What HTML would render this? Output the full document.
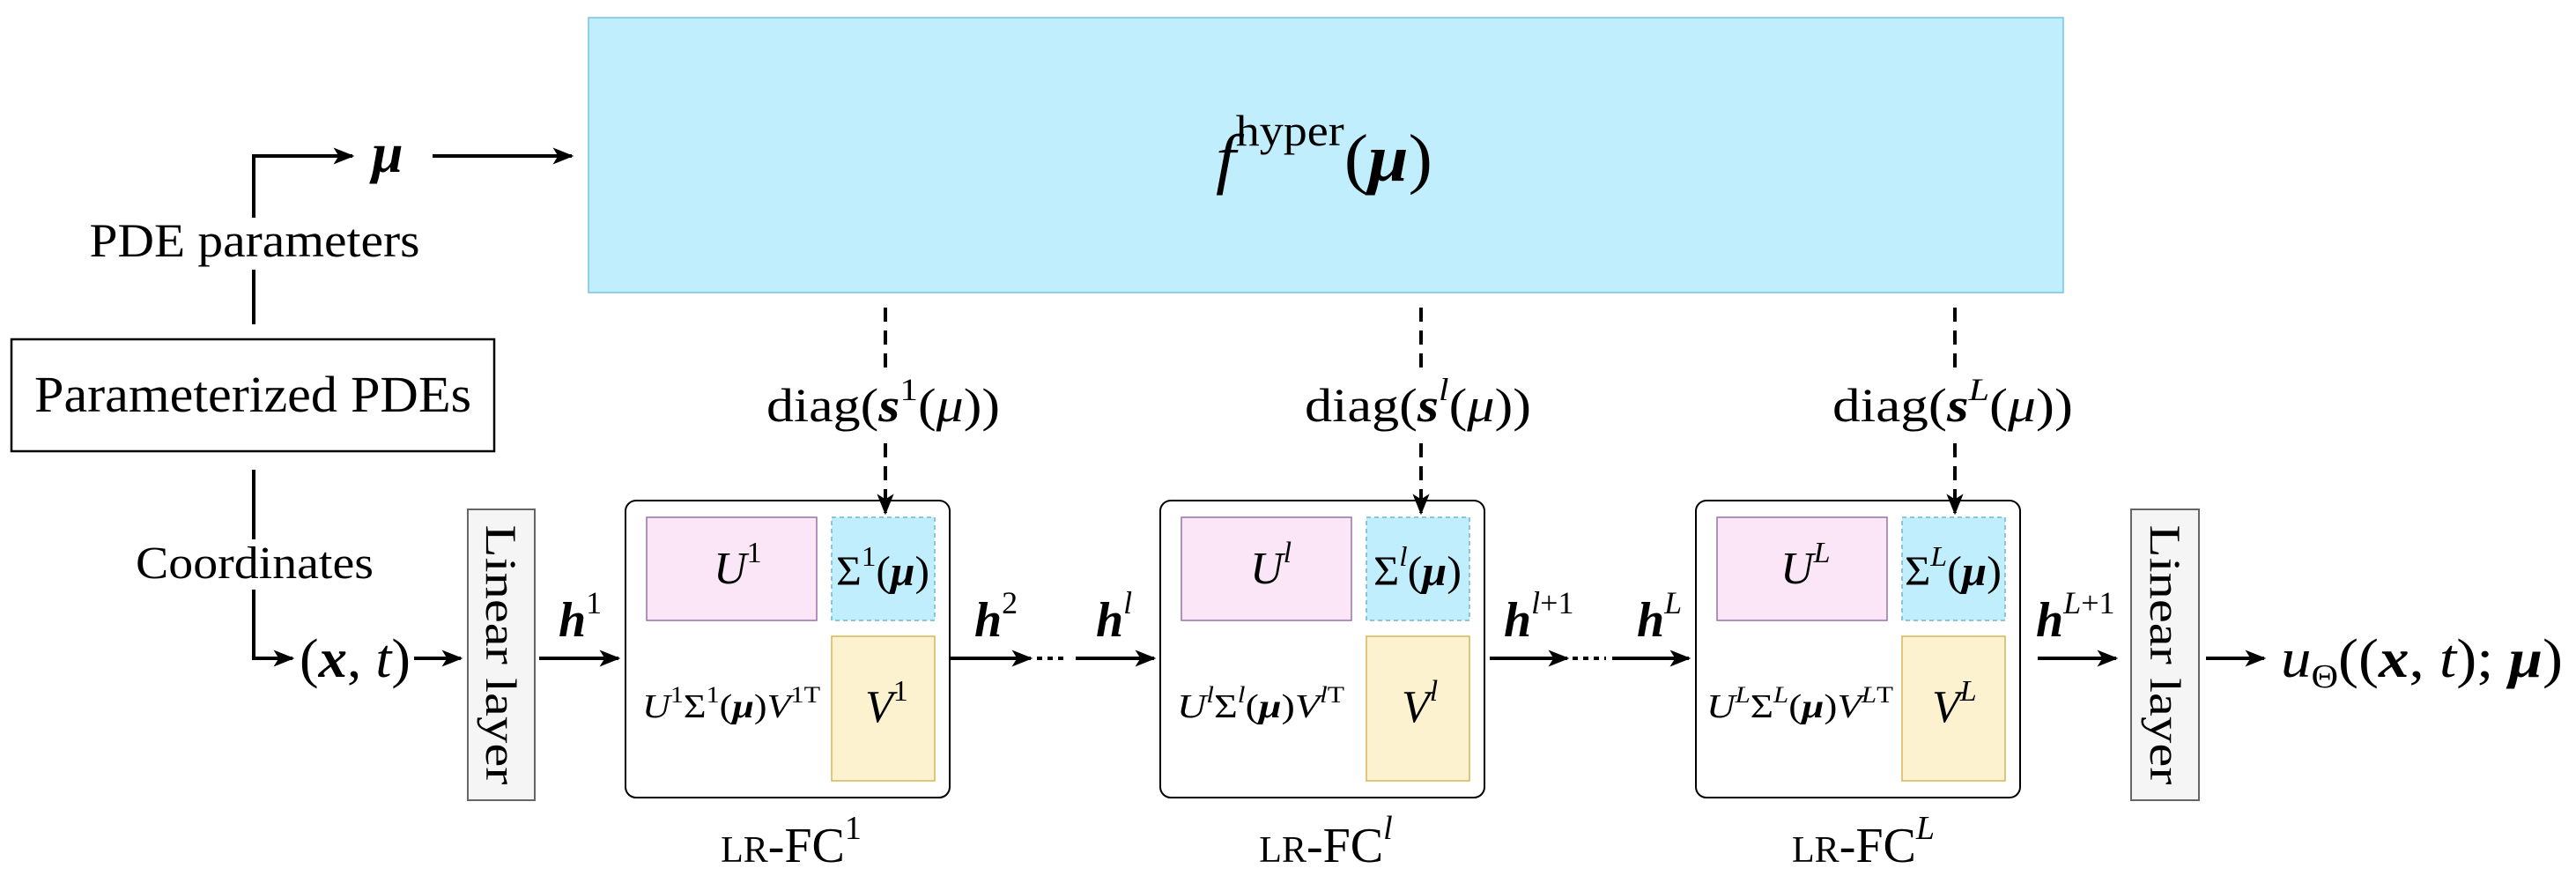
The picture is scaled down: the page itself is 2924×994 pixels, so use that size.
<!DOCTYPE html>
<html><head><meta charset="utf-8"><style>
html,body{margin:0;padding:0;background:#fff;}
svg{display:block;}
text{font-family:"Liberation Serif","DejaVu Serif",serif;fill:#000;}
.i{font-style:italic;}
.b{font-weight:bold;font-style:italic;}
</style></head><body>
<svg width="2924" height="994" viewBox="0 0 2924 994" xmlns="http://www.w3.org/2000/svg" font-family="Liberation Serif, DejaVu Serif, serif">
<defs>
<marker id="a" viewBox="0 0 20 16" refX="18" refY="8" markerWidth="24" markerHeight="20" markerUnits="userSpaceOnUse" orient="auto"><path d="M0,0 L20,8 L0,16 L5,8 Z" fill="#000"/></marker>
</defs>

<!-- hyper box -->
<rect x="668" y="20" width="1674" height="312" fill="#c0eefc" stroke="#72c3e3" stroke-width="1.5"/>
<text x="1380" y="205" font-size="76" class="i" textLength="246" lengthAdjust="spacingAndGlyphs">f<tspan font-style="normal" font-size="50" dy="-40">hyper</tspan><tspan font-style="normal" font-size="76" dy="40">(</tspan><tspan class="b">μ</tspan><tspan font-style="normal">)</tspan></text>

<!-- left: mu -->
<polyline points="288,247 288,177 400,177" fill="none" stroke="#000" stroke-width="4" marker-end="url(#a)"/>
<text x="422" y="195" font-size="64" class="b">μ</text>
<line x1="491" y1="177" x2="649" y2="177" stroke="#000" stroke-width="4" marker-end="url(#a)"/>
<text x="289" y="291" font-size="54" text-anchor="middle" textLength="375" lengthAdjust="spacingAndGlyphs">PDE parameters</text>
<line x1="288" y1="306" x2="288" y2="368" stroke="#000" stroke-width="4"/>
<rect x="13" y="385" width="548" height="127" fill="#fff" stroke="#000" stroke-width="2.5"/>
<text x="287" y="467" font-size="58" text-anchor="middle" textLength="496" lengthAdjust="spacingAndGlyphs">Parameterized PDEs</text>
<line x1="288" y1="533" x2="288" y2="612" stroke="#000" stroke-width="4"/>
<text x="289" y="656" font-size="52" text-anchor="middle" textLength="270" lengthAdjust="spacingAndGlyphs">Coordinates</text>
<polyline points="288,669 288,747 332,747" fill="none" stroke="#000" stroke-width="4" marker-end="url(#a)"/>
<text x="340" y="768" font-size="62" textLength="126" lengthAdjust="spacingAndGlyphs">(<tspan class="b">x</tspan>, <tspan class="i">t</tspan>)</text>
<line x1="470" y1="747" x2="523" y2="747" stroke="#000" stroke-width="4" marker-end="url(#a)"/>

<!-- linear layer 1 -->
<rect x="531" y="578" width="76" height="330" fill="#f5f5f5" stroke="#666" stroke-width="2"/>
<text transform="translate(552,743) rotate(90)" font-size="50" text-anchor="middle" textLength="295" lengthAdjust="spacingAndGlyphs">Linear layer</text>
<line x1="612" y1="747" x2="702" y2="747" stroke="#000" stroke-width="4" marker-end="url(#a)"/>
<text x="634" y="722" font-size="56" class="b">h<tspan font-style="normal" font-weight="normal" font-size="36" dy="-26">1</tspan></text>

<!-- between arrows -->
<line x1="1078" y1="747" x2="1170" y2="747" stroke="#000" stroke-width="4" marker-end="url(#a)"/>
<line x1="1177" y1="747" x2="1213" y2="747" stroke="#000" stroke-width="4" stroke-dasharray="6,6"/>
<line x1="1221" y1="747" x2="1310" y2="747" stroke="#000" stroke-width="4" marker-end="url(#a)"/>
<text x="1106" y="722" font-size="56" class="b">h<tspan font-style="normal" font-weight="normal" font-size="36" dy="-26">2</tspan></text>
<text x="1244" y="722" font-size="56" class="b">h<tspan class="i" font-weight="normal" font-size="36" dy="-26">l</tspan></text>

<line x1="1691" y1="747" x2="1779" y2="747" stroke="#000" stroke-width="4" marker-end="url(#a)"/>
<line x1="1785" y1="747" x2="1823" y2="747" stroke="#000" stroke-width="4" stroke-dasharray="6,6"/>
<line x1="1830" y1="747" x2="1917" y2="747" stroke="#000" stroke-width="4" marker-end="url(#a)"/>
<text x="1707" y="722" font-size="56" class="b">h<tspan font-weight="normal" font-style="normal" font-size="36" dy="-26"><tspan class="i">l</tspan>+1</tspan></text>
<text x="1858" y="722" font-size="56" class="b">h<tspan class="i" font-weight="normal" font-size="36" dy="-26">L</tspan></text>

<line x1="2313" y1="747" x2="2402" y2="747" stroke="#000" stroke-width="4" marker-end="url(#a)"/>
<text x="2311" y="722" font-size="56" class="b">h<tspan font-weight="normal" font-style="normal" font-size="36" dy="-26"><tspan class="i">L</tspan>+1</tspan></text>

<!-- linear layer 2 -->
<rect x="2419" y="578" width="77" height="330" fill="#f5f5f5" stroke="#666" stroke-width="2"/>
<text transform="translate(2441,743) rotate(90)" font-size="50" text-anchor="middle" textLength="295" lengthAdjust="spacingAndGlyphs">Linear layer</text>
<line x1="2504" y1="747" x2="2570" y2="747" stroke="#000" stroke-width="4" marker-end="url(#a)"/>
<text x="2589" y="768" font-size="62" class="i" textLength="320" lengthAdjust="spacingAndGlyphs">u<tspan font-style="normal" font-size="38" dy="12">Θ</tspan><tspan font-style="normal" dy="-12">((</tspan><tspan class="b">x</tspan><tspan font-style="normal">, </tspan>t<tspan font-style="normal">); </tspan><tspan class="b">μ</tspan><tspan font-style="normal">)</tspan></text>

<!-- block 1 -->
<g>
<rect x="710" y="568" width="368" height="337" rx="12" fill="#fff" stroke="#000" stroke-width="2"/>
<rect x="734" y="587" width="193" height="117" fill="#fbe6f7" stroke="#9673a6" stroke-width="1.5"/>
<rect x="944" y="587" width="117" height="117" fill="#c0eefc" stroke="#6cb6d6" stroke-width="1.5" stroke-dasharray="5,4"/>
<rect x="944" y="722" width="117" height="164" fill="#fcf2d0" stroke="#d6b656" stroke-width="1.5"/>
<text x="810" y="662" font-size="52" class="i">U<tspan font-style="normal" font-size="34" dy="-24">1</tspan></text>
<text x="949" y="664" font-size="48" textLength="106" lengthAdjust="spacingAndGlyphs">Σ<tspan font-size="32" dy="-22">1</tspan><tspan dy="22">(</tspan><tspan class="b">μ</tspan>)</text>
<text x="982" y="819" font-size="52" class="i">V<tspan font-style="normal" font-size="34" dy="-24">1</tspan></text>
<text x="729" y="814" font-size="38" class="i" textLength="202" lengthAdjust="spacingAndGlyphs">U<tspan font-style="normal" font-size="26" dy="-17">1</tspan><tspan font-style="normal" dy="17">Σ</tspan><tspan font-style="normal" font-size="26" dy="-17">1</tspan><tspan font-style="normal" dy="17">(</tspan><tspan class="b">μ</tspan><tspan font-style="normal">)</tspan>V<tspan font-style="normal" font-size="26" dy="-17">1T</tspan></text>
<text x="898" y="978" font-size="56" text-anchor="middle"><tspan font-size="42">LR</tspan>-FC<tspan font-size="38" dy="-26">1</tspan></text>
<line x1="1005" y1="349" x2="1005" y2="420" stroke="#000" stroke-width="4" stroke-dasharray="16,10"/>
<line x1="1005" y1="503" x2="1005" y2="582" stroke="#000" stroke-width="4" stroke-dasharray="16,10" marker-end="url(#a)"/>
<text x="870" y="478" font-size="54" textLength="265" lengthAdjust="spacingAndGlyphs">diag(<tspan class="b">s</tspan><tspan font-size="36" dy="-24">1</tspan><tspan dy="24">(</tspan><tspan class="i">μ</tspan>))</text>
</g>

<!-- block 2 -->
<g transform="translate(607,0)">
<rect x="710" y="568" width="368" height="337" rx="12" fill="#fff" stroke="#000" stroke-width="2"/>
<rect x="734" y="587" width="193" height="117" fill="#fbe6f7" stroke="#9673a6" stroke-width="1.5"/>
<rect x="944" y="587" width="117" height="117" fill="#c0eefc" stroke="#6cb6d6" stroke-width="1.5" stroke-dasharray="5,4"/>
<rect x="944" y="722" width="117" height="164" fill="#fcf2d0" stroke="#d6b656" stroke-width="1.5"/>
<text x="812" y="662" font-size="52" class="i">U<tspan font-size="34" dy="-24">l</tspan></text>
<text x="952" y="664" font-size="48" textLength="100" lengthAdjust="spacingAndGlyphs">Σ<tspan class="i" font-size="32" dy="-22">l</tspan><tspan dy="22">(</tspan><tspan class="b">μ</tspan>)</text>
<text x="984" y="819" font-size="52" class="i">V<tspan font-size="34" dy="-24">l</tspan></text>
<text x="729" y="814" font-size="38" class="i" textLength="190" lengthAdjust="spacingAndGlyphs">U<tspan font-size="26" dy="-17">l</tspan><tspan font-style="normal" dy="17">Σ</tspan><tspan font-size="26" dy="-17">l</tspan><tspan font-style="normal" dy="17">(</tspan><tspan class="b">μ</tspan><tspan font-style="normal">)</tspan>V<tspan font-size="26" dy="-17">l<tspan font-style="normal">T</tspan></tspan></text>
<text x="898" y="978" font-size="56" text-anchor="middle"><tspan font-size="42">LR</tspan>-FC<tspan class="i" font-size="38" dy="-26">l</tspan></text>
<line x1="1006" y1="349" x2="1006" y2="420" stroke="#000" stroke-width="4" stroke-dasharray="16,10"/>
<line x1="1006" y1="503" x2="1006" y2="582" stroke="#000" stroke-width="4" stroke-dasharray="16,10" marker-end="url(#a)"/>
<text x="874" y="478" font-size="54" textLength="257" lengthAdjust="spacingAndGlyphs">diag(<tspan class="b">s</tspan><tspan class="i" font-size="36" dy="-24">l</tspan><tspan dy="24">(</tspan><tspan class="i">μ</tspan>))</text>
</g>

<!-- block 3 -->
<g transform="translate(1215,0)">
<rect x="710" y="568" width="368" height="337" rx="12" fill="#fff" stroke="#000" stroke-width="2"/>
<rect x="734" y="587" width="193" height="117" fill="#fbe6f7" stroke="#9673a6" stroke-width="1.5"/>
<rect x="944" y="587" width="117" height="117" fill="#c0eefc" stroke="#6cb6d6" stroke-width="1.5" stroke-dasharray="5,4"/>
<rect x="944" y="722" width="117" height="164" fill="#fcf2d0" stroke="#d6b656" stroke-width="1.5"/>
<text x="806" y="662" font-size="52" class="i">U<tspan font-size="34" dy="-24">L</tspan></text>
<text x="947" y="664" font-size="48" textLength="110" lengthAdjust="spacingAndGlyphs">Σ<tspan class="i" font-size="32" dy="-22">L</tspan><tspan dy="22">(</tspan><tspan class="b">μ</tspan>)</text>
<text x="978" y="819" font-size="52" class="i">V<tspan font-size="34" dy="-24">L</tspan></text>
<text x="722" y="814" font-size="38" class="i" textLength="212" lengthAdjust="spacingAndGlyphs">U<tspan font-size="26" dy="-17">L</tspan><tspan font-style="normal" dy="17">Σ</tspan><tspan font-size="26" dy="-17">L</tspan><tspan font-style="normal" dy="17">(</tspan><tspan class="b">μ</tspan><tspan font-style="normal">)</tspan>V<tspan font-size="26" dy="-17">L<tspan font-style="normal">T</tspan></tspan></text>
<text x="900" y="978" font-size="56" text-anchor="middle"><tspan font-size="42">LR</tspan>-FC<tspan class="i" font-size="38" dy="-26">L</tspan></text>
<line x1="1004" y1="349" x2="1004" y2="420" stroke="#000" stroke-width="4" stroke-dasharray="16,10"/>
<line x1="1004" y1="503" x2="1004" y2="582" stroke="#000" stroke-width="4" stroke-dasharray="16,10" marker-end="url(#a)"/>
<text x="865" y="478" font-size="54" textLength="273" lengthAdjust="spacingAndGlyphs">diag(<tspan class="b">s</tspan><tspan class="i" font-size="36" dy="-24">L</tspan><tspan dy="24">(</tspan><tspan class="i">μ</tspan>))</text>
</g>
</svg>
</body></html>
